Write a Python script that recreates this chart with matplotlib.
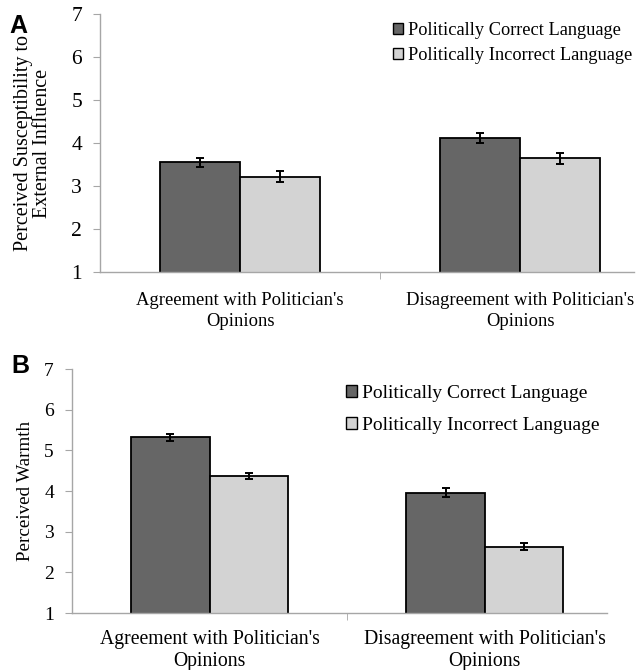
import numpy as np
import matplotlib
matplotlib.use('Agg')
import matplotlib.pyplot as plt
from matplotlib.patches import Patch

plt.rcParams['font.family'] = 'serif'
plt.rcParams['font.serif'] = ['Liberation Serif', 'DejaVu Serif']

# Data
groups = ["Agreement with Politician's\nOpinions", "Disagreement with Politician's\nOpinions"]
series = ['Politically Correct Language', 'Politically Incorrect Language']

susc_correct = [3.55, 4.12]
susc_correct_err = [0.11, 0.12]
susc_incorrect = [3.22, 3.64]
susc_incorrect_err = [0.13, 0.13]

warmth_correct = [5.32, 3.96]
warmth_correct_err = [0.09, 0.11]
warmth_incorrect = [4.37, 2.63]
warmth_incorrect_err = [0.08, 0.09]

y_ticks = [1, 2, 3, 4, 5, 6, 7]

dark = '#666666'
light = '#d3d3d3'
axis_gray = '#a6a6a6'

W, H = 636, 670
fig = plt.figure(figsize=(W / 100, H / 100), dpi=100)


def px_axes(l, t, r, b):
    return fig.add_axes([l / W, 1 - b / H, (r - l) / W, (b - t) / H])


def draw_panel(ax, correct, correct_err, incorrect, incorrect_err, xmax, width,
               tick_fs, label_fs, label_pad, label_ls):
    x = np.arange(len(groups))
    ax.bar(x - width / 2, correct, width, color=dark, edgecolor='black',
           linewidth=1.3, zorder=2)
    ax.bar(x + width / 2, incorrect, width, color=light, edgecolor='black',
           linewidth=1.3, zorder=2)
    ax.errorbar(x - width / 2, correct, yerr=correct_err, fmt='none', ecolor='black',
                elinewidth=1.4, capsize=3, capthick=1.4, zorder=3)
    ax.errorbar(x + width / 2, incorrect, yerr=incorrect_err, fmt='none', ecolor='black',
                elinewidth=1.4, capsize=3, capthick=1.4, zorder=3)
    ax.set_ylim(1, 7)
    ax.set_xlim(-0.5, xmax)
    ax.set_yticks(y_ticks)
    ax.set_xticks(x)
    ax.set_xticklabels(groups, fontsize=label_fs, linespacing=label_ls)
    ax.set_xticks([0.5], minor=True)
    ax.tick_params(axis='x', which='major', length=0, pad=label_pad)
    ax.tick_params(axis='x', which='minor', length=5, color=axis_gray, direction='out')
    ax.tick_params(axis='y', length=5, color=axis_gray, direction='out',
                   labelsize=tick_fs, pad=8)
    for s in ['top', 'right']:
        ax.spines[s].set_visible(False)
    for s in ['left', 'bottom']:
        ax.spines[s].set_color(axis_gray)
        ax.spines[s].set_linewidth(1.0)


handles = [Patch(facecolor=dark, edgecolor='black', linewidth=1.0),
           Patch(facecolor=light, edgecolor='black', linewidth=1.0)]

# --- Panel A: susceptibility ---
axA = px_axes(100, 14, 634, 272)
draw_panel(axA, susc_correct, susc_correct_err, susc_incorrect, susc_incorrect_err,
           1.407, 0.286, 15.5, 13.4, 14.5, 1.3)
axA.set_ylabel('Perceived Susceptibility to\nExternal Influence', fontsize=14.5,
               linespacing=1.0, labelpad=14)
fig.legend(handles, series, loc='upper left', bbox_to_anchor=(393 / W, 1 - 22 / H),
           bbox_transform=fig.transFigure, frameon=False, fontsize=13.2,
           handlelength=0.55, handleheight=0.55, handletextpad=0.25,
           borderpad=0, borderaxespad=0, labelspacing=0.45)
fig.text(9 / W, 1 - 33 / H, 'A', fontsize=18, fontweight='bold',
         family='Liberation Sans', ha='left', va='baseline')

# --- Panel B: warmth ---
axB = px_axes(72, 369, 607, 613)
draw_panel(axB, warmth_correct, warmth_correct_err, warmth_incorrect, warmth_incorrect_err,
           1.445, 0.284, 14, 14.2, 12.3, 1.2)
axB.set_ylabel('Perceived Warmth', fontsize=13.7, labelpad=7)
fig.legend(handles, series, loc='upper left', bbox_to_anchor=(346 / W, 1 - 385 / H),
           bbox_transform=fig.transFigure, frameon=False, fontsize=14,
           handlelength=0.55, handleheight=0.55, handletextpad=0.25,
           borderpad=0, borderaxespad=0, labelspacing=0.75)
fig.text(11 / W, 1 - 373 / H, 'B', fontsize=18, fontweight='bold',
         family='Liberation Sans', ha='left', va='baseline')

fig.savefig('out.png', dpi=100)
